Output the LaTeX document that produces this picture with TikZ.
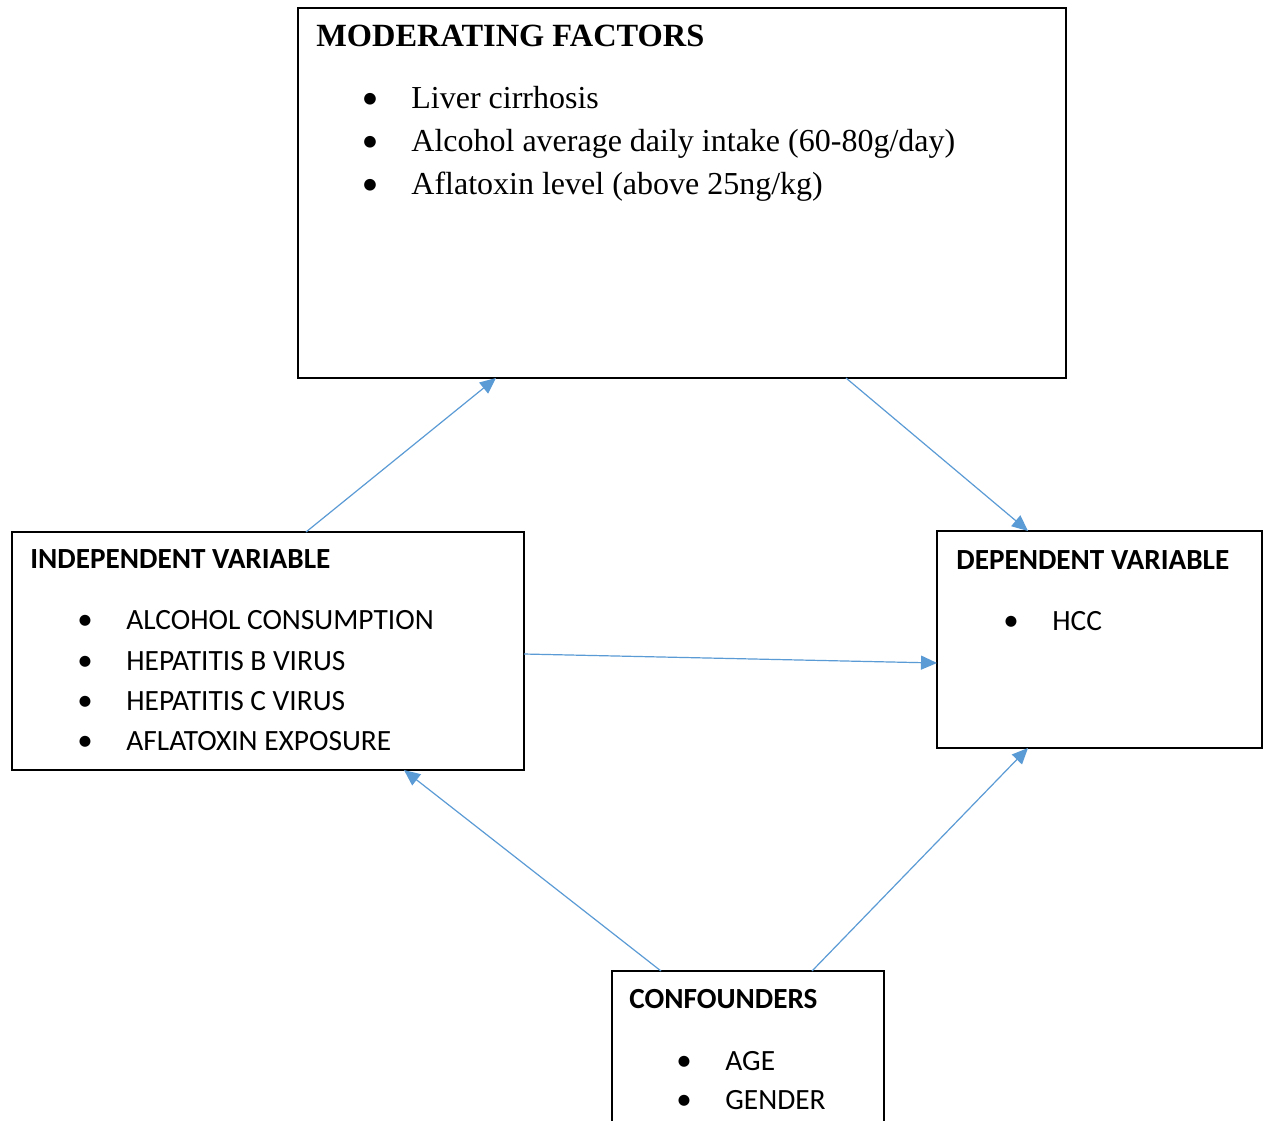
\documentclass[tikz,border=0pt]{standalone}
\usepackage{fontspec}
\setmainfont{Liberation Serif}
\newfontfamily\calibrifont{Carlito}
\usetikzlibrary{arrows.meta}
\definecolor{arrowblue}{HTML}{5B9BD5}
\tikzset{
  box/.style={draw=black, line width=0.6pt, rectangle, inner sep=0pt, outer sep=0pt, anchor=north west},
  thickbox/.style={box, line width=1.4pt},
  conn/.style={draw=arrowblue, line width=0.6pt, -{Triangle[length=8pt,width=7pt]}},
  ttl/.style={anchor=base west, inner sep=0pt, font=\bfseries\fontsize{16.2}{19}\selectfont},
  itm/.style={anchor=base west, inner sep=0pt, font=\fontsize{16}{19}\selectfont},
  cttl/.style={anchor=base west, inner sep=0pt, font=\calibrifont\bfseries\fontsize{14.6}{17}\selectfont},
  citm/.style={anchor=base west, inner sep=0pt, font=\calibrifont\fontsize{14.7}{17}\selectfont},
  bul/.style={anchor=base, inner sep=0pt, font=\calibrifont\fontsize{15.5}{17}\selectfont},
  tbul/.style={anchor=base, inner sep=0pt, font=\calibrifont\fontsize{16.5}{19}\selectfont}
}
\begin{document}
\begin{tikzpicture}[x=0.5pt,y=-0.5pt]
\useasboundingbox (0,0) rectangle (1263,1120);
\clip (0,0) rectangle (1263,1120);
\fill[white] (0,0) rectangle (1263,1120);

% boxes
\node[box, minimum width=384pt, minimum height=185pt] (mod) at (298,8) {};
\node[box, minimum width=256pt, minimum height=119pt] (ind) at (12,532) {};
\node[thickbox, minimum width=162.5pt, minimum height=108.5pt] (dep) at (937,531) {};
\node[box, minimum width=136pt, minimum height=82pt] (conf) at (612,971) {};

% moderating texts
\node[ttl] (modt) at (316,46) {MODERATING FACTORS};
\node[tbul] (mb1) at (370,108) {\textbullet};
\node[itm] (mi1) at (411,108) {Liver cirrhosis};
\node[tbul] (mb2) at (370,151) {\textbullet};
\node[itm] (mi2) at (411,151) {Alcohol average daily intake (60-80g/day)};
\node[tbul] (mb3) at (370,194) {\textbullet};
\node[itm] (mi3) at (411,194) {Aflatoxin level (above 25ng/kg)};

% independent texts
\node[cttl] (indt) at (30,568) {INDEPENDENT VARIABLE};
\node[bul] (ib1) at (85,629) {\textbullet};
\node[citm] (ii1) at (126,629) {ALCOHOL CONSUMPTION};
\node[bul] (ib2) at (85,670) {\textbullet};
\node[citm] (ii2) at (126,670) {HEPATITIS B VIRUS};
\node[bul] (ib3) at (85,710) {\textbullet};
\node[citm] (ii3) at (126,710) {HEPATITIS C VIRUS};
\node[bul] (ib4) at (85,750) {\textbullet};
\node[citm] (ii4) at (126,750) {AFLATOXIN EXPOSURE};

% dependent texts
\node[cttl] (dept) at (956,569) {DEPENDENT VARIABLE};
\node[bul] (db1) at (1011,630) {\textbullet};
\node[citm] (di1) at (1052,630) {HCC};

% confounders texts
\node[cttl] (conft) at (629,1008) {CONFOUNDERS};
\node[bul] (cb1) at (684,1070) {\textbullet};
\node[citm] (ci1) at (725,1070) {AGE};
\node[bul] (cb2) at (684,1109) {\textbullet};
\node[citm] (ci2) at (725,1109) {GENDER};

% connectors
\draw[conn] ([xshift=147pt]ind.north west) -- ([xshift=99pt]mod.south west);
\draw[conn] ([xshift=274pt]mod.south west) -- ([xshift=45.5pt]dep.north west);
\draw[conn] ([yshift=-61pt]ind.north east) -- ([yshift=-66pt]dep.north west);
\draw[conn] ([xshift=24.5pt]conf.north west) -- ([xshift=196pt]ind.south west);
\draw[conn] ([xshift=100pt]conf.north west) -- ([xshift=45.5pt]dep.south west);
\end{tikzpicture}
\end{document}
